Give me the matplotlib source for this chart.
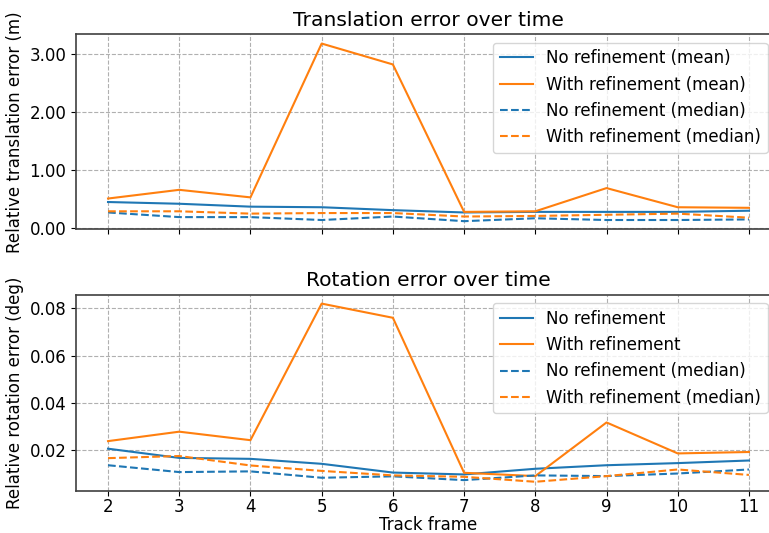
import numpy as np
from matplotlib import pyplot as plt
from matplotlib.ticker import FormatStrFormatter

frames = [2, 3, 4, 5, 6, 7, 8, 9, 10, 11]

# translation error (m)
trans_no_mean = [0.45, 0.42, 0.37, 0.36, 0.31, 0.27, 0.28, 0.28, 0.28, 0.30]
trans_ref_mean = [0.51, 0.66, 0.53, 3.18, 2.82, 0.28, 0.29, 0.69, 0.36, 0.35]
trans_no_median = [0.27, 0.19, 0.19, 0.14, 0.20, 0.12, 0.17, 0.14, 0.14, 0.15]
trans_ref_median = [0.29, 0.29, 0.25, 0.26, 0.26, 0.20, 0.21, 0.23, 0.25, 0.18]

# rotation error (deg)
rot_no_mean = [0.0206, 0.0167, 0.0163, 0.0142, 0.0105, 0.0097, 0.0121, 0.0136, 0.0145, 0.0156]
rot_ref_mean = [0.0238, 0.0278, 0.0242, 0.0820, 0.0760, 0.0104, 0.0090, 0.0317, 0.0186, 0.0192]
rot_no_median = [0.0136, 0.0107, 0.0110, 0.0083, 0.0089, 0.0073, 0.0093, 0.0090, 0.0101, 0.0118]
rot_ref_median = [0.0166, 0.0175, 0.0135, 0.0112, 0.0093, 0.0087, 0.0066, 0.0090, 0.0118, 0.0095]

plt.rcParams['font.size'] = 12

fig = plt.figure(figsize=(7.69, 5.33), dpi=100)
ax1 = fig.add_axes([0.0988, 0.5698, 0.9168, 0.3659])
ax2 = fig.add_axes([0.0988, 0.0794, 0.9168, 0.3677], sharex=ax1)

ax1.plot(frames, trans_no_mean, color='tab:blue', label='No refinement (mean)')
ax1.plot(frames, trans_ref_mean, color='tab:orange', label='With refinement (mean)')
ax1.plot(frames, trans_no_median, '--', color='tab:blue', label='No refinement (median)')
ax1.plot(frames, trans_ref_median, '--', color='tab:orange', label='With refinement (median)')
ax1.set_title('Translation error over time', fontsize=14.6)
ax1.set_ylabel('Relative translation error (m)')
ax1.set_ylim(-0.02, 3.34)
ax1.yaxis.set_major_formatter(FormatStrFormatter('%.2f'))
ax1.tick_params(labelbottom=False)
ax1.legend(loc='upper right', bbox_to_anchor=(0.993, 1.0))

ax2.plot(frames, rot_no_mean, color='tab:blue', label='No refinement')
ax2.plot(frames, rot_ref_mean, color='tab:orange', label='With refinement')
ax2.plot(frames, rot_no_median, '--', color='tab:blue', label='No refinement (median)')
ax2.plot(frames, rot_ref_median, '--', color='tab:orange', label='With refinement (median)')
ax2.set_title('Rotation error over time', fontsize=14.6)
ax2.set_ylabel('Relative rotation error (deg)')
ax2.set_xlabel('Track frame', labelpad=0)
ax2.set_xticks(frames)
ax2.set_yticks([0.02, 0.04, 0.06, 0.08])
ax2.tick_params(axis='x', pad=1.5)
ax2.legend(loc='upper right', bbox_to_anchor=(0.993, 1.0))

for ax in (ax1, ax2):
    ax.grid(True, linestyle='--', color='#b0b0b0')
    for side in ('left', 'bottom', 'top', 'right'):
        ax.spines[side].set_color('0.25')
        ax.spines[side].set_linewidth(1.2)

fig.savefig('out.png', dpi=100)
